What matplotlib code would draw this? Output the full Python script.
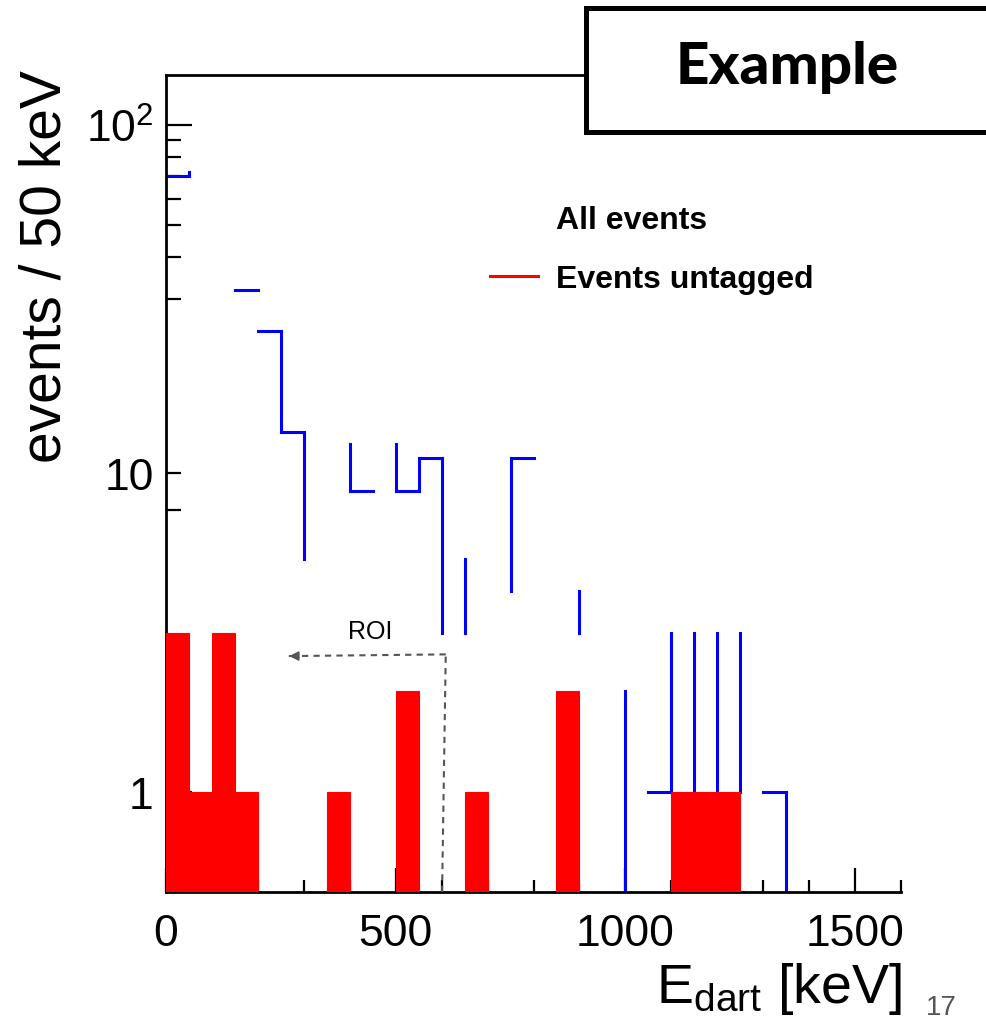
import numpy as np
import matplotlib
matplotlib.use("Agg")
import matplotlib.pyplot as plt
from matplotlib.lines import Line2D
from matplotlib.patches import Rectangle
from matplotlib.ticker import MultipleLocator

plt.rcParams['font.family'] = ['Liberation Sans Narrow', 'Liberation Sans', 'DejaVu Sans']
plt.rcParams['mathtext.fontset'] = 'custom'
plt.rcParams['mathtext.rm'] = 'Liberation Sans'
plt.rcParams['mathtext.it'] = 'Liberation Sans:italic'
plt.rcParams['mathtext.bf'] = 'Liberation Sans:bold'

# ---------------- data ----------------
bin_edges = list(range(0, 1650, 50))          # 50 keV bins, 0..1600 keV
all_events = [70, 72, 32, 32, 24, 12, 5, 11, 8, 11, 8, 10, 3, 5, 4, 10,
              4, 4, 3, 2, 0, 1, 3, 1, 3, 1, 1, 0, 0, 0, 0, 0]
untagged = [3, 1, 3, 1, 0, 0, 0, 1, 0, 0, 2, 0, 0, 1, 0, 0,
            0, 2, 0, 0, 0, 0, 1, 1, 1, 0, 0, 0, 0, 0, 0, 0]
# which parts of the "All events" outline are visible in the original
top_drawn = [1, 0, 0, 1, 1, 1, 0, 0, 1, 0, 1, 1, 0, 0, 0, 1,
             0, 0, 0, 0, 0, 1, 0, 0, 0, 0, 1, 0, 0, 0, 0, 0]
edge_drawn = [0, 1, 0, 0, 0, 1, 1, 0, 1, 0, 1, 1, 1, 1, 0, 1,
              0, 0, 1, 0, 1, 0, 1, 1, 1, 1, 0, 1, 0, 0, 0, 0, 0]
x_ticks = [0, 500, 1000, 1500]
y_major = [1, 100]
y_major_labels = ['1', r'$\mathregular{10^{2}}$']
y_minor = [0.6, 0.8, 7, 9, 30, 40, 50, 60, 70, 80, 90]
y_minor_labels = ['', '', '', '10', '', '', '', '', '', '', '']
legend_labels = ['All events', 'Events untagged']

BLUE = '#0000ff'
RED = '#ff0000'
FLOOR = 0.05

fig = plt.figure(figsize=(9.86, 10.2), dpi=100)
ax = fig.add_axes([166/986, 1-893/1020, 735/986, 817/1020])
ax.set_yscale('log')
ax.set_xlim(0, 1600)
ax.set_ylim(0.5, 141)

edges = np.array(bin_edges, dtype=float)
allv = np.array(all_events, dtype=float)
allp = np.where(allv > 0, allv, FLOOR)

# blue outline (visible pieces)
for i in range(len(allv)):
    if top_drawn[i] and allv[i] > 0:
        l = ax.hlines(allp[i], edges[i], edges[i+1], color=BLUE, lw=2.2, zorder=2)
        l.set_capstyle('projecting')
for j in range(1, len(edges)-1):
    if edge_drawn[j]:
        l = ax.vlines(edges[j], allp[j-1], allp[j], color=BLUE, lw=2.2, zorder=2)
        l.set_capstyle('projecting')

# red filled histogram
u = np.array(untagged, dtype=float)
m = u > 0
ax.bar(edges[:-1][m], u[m] - FLOOR, width=50, bottom=FLOOR, align='edge',
       color=RED, edgecolor=RED, linewidth=0.8, zorder=3)

# ROI annotation
ax.plot([601, 609], [0.5, 2.58], ls=(0, (3, 2.5)), color='#555555', lw=1.5, zorder=4)
ax.plot([609, 272], [2.58, 2.55], ls=(0, (3, 2.5)), color='#555555', lw=1.5, zorder=4)
ax.annotate('', xy=(262, 2.55), xytext=(276, 2.55),
            arrowprops=dict(arrowstyle='-|>', color='#555555', lw=1.2,
                            mutation_scale=14), zorder=4)
ax.text(444, 3.03, 'ROI', ha='center', va='center', fontsize=18,
        family=['Liberation Sans', 'DejaVu Sans'], zorder=5)

# axes styling
ax.spines['right'].set_visible(False)
for s in ('left', 'bottom', 'top'):
    ax.spines[s].set_linewidth(2)
ax.set_xticks(x_ticks)
ax.set_xticklabels([str(v) for v in x_ticks])
ax.xaxis.set_minor_locator(MultipleLocator(100))
ax.set_yticks(y_major, labels=y_major_labels)
ax.set_yticks(y_minor, labels=y_minor_labels, minor=True)
ax.tick_params(axis='x', which='major', direction='in', length=17, width=1.6,
               labelsize=32, pad=15, top=False)
ax.tick_params(axis='x', which='minor', direction='in', length=9, width=1.6, top=False)
ax.tick_params(axis='y', which='major', direction='in', length=19, width=1.6,
               labelsize=32, pad=9, right=False)
ax.tick_params(axis='y', which='minor', direction='in', length=11, width=1.6,
               labelsize=32, pad=9, right=False)

# legend
handles = [Line2D([], [], color='none', lw=2.2), Line2D([], [], color=RED, lw=2.2)]
ax.legend(handles, legend_labels, loc='upper left',
          bbox_to_anchor=(490/986, 1-206/1020), bbox_transform=fig.transFigure,
          frameon=False, prop={'family': ['Liberation Sans', 'DejaVu Sans'],
                               'weight': 'bold', 'size': 23},
          handlelength=1.5, handletextpad=0.58, borderpad=0, borderaxespad=0,
          labelspacing=0.92)

# axis titles
fig.text(46/986, 1-267/1020, 'events / 50 keV', rotation=90, ha='center',
         va='center', fontsize=41, family=['Liberation Sans', 'DejaVu Sans'])
fig.text(902/986, 1-1017/1020, r'E$_{\mathregular{dart}}$ [keV]', ha='right',
         va='bottom', fontsize=40)
fig.text(941/986, 1-1008/1020, '17', ha='center', va='center', fontsize=20,
         color='#555555', family=['Liberation Sans', 'DejaVu Sans'])

# "Example" box
fig.add_artist(Rectangle((586/986, 1-133/1020), 0.5, 124/1020,
                         transform=fig.transFigure, facecolor='white',
                         edgecolor='black', lw=3.6, zorder=10, clip_on=False))
fig.text(787/986, 1-68/1020, 'Example', ha='center', va='center', fontsize=42,
         weight='black', family=['Lato', 'DejaVu Sans'], zorder=11)

fig.savefig('out.png', dpi=100)
